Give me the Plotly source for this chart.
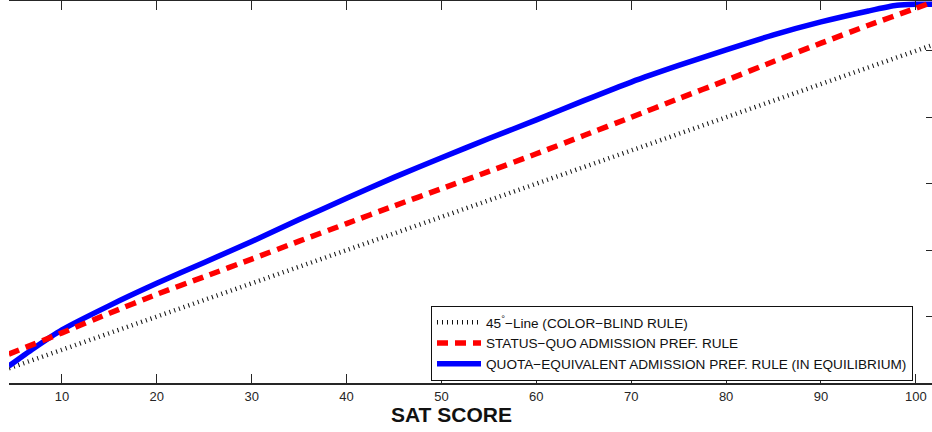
import plotly.graph_objects as go

# 45-degree line (colour-blind rule)
x_45 = [4.42, 101.7]
y_45 = [4.42, 101.7]

# status-quo admission preference rule
x_sq = [4.4, 10, 15, 20, 25, 30, 35, 40, 45, 50, 55, 60, 65, 70, 75, 80, 85, 90, 95, 100, 101.7]
y_sq = [8.7, 15.1, 21.0, 26.7, 32.0, 37.3, 42.7, 48.0, 53.3, 58.5, 63.7, 69.0, 74.5, 80.0, 85.6,
        91.1, 96.8, 102.3, 107.7, 112.8, 114.6]

# quota-equivalent admission preference rule
x_qe = [4.4, 7, 10, 15, 20, 25, 30, 35, 40, 45, 50, 55, 60, 65, 70, 75, 80, 85, 90, 95, 98, 100, 101.7]
y_qe = [5.1, 10.4, 16.0, 23.3, 30.0, 36.3, 42.6, 49.2, 55.6, 61.9, 67.8, 73.6, 79.2, 85.0, 90.6,
        95.6, 100.3, 104.8, 108.7, 112.0, 113.7, 114.0, 114.0]

x_ticks = [10, 20, 30, 40, 50, 60, 70, 80, 90, 100]
y_ticks = [0, 20, 40, 60, 80, 100]

names = ["45<sup>°</sup>−Line (COLOR−BLIND RULE)",
         "STATUS−QUO ADMISSION PREF. RULE",
         "QUOTA−EQUIVALENT ADMISSION PREF. RULE (IN EQUILIBRIUM)"]

FONT = "Liberation Sans, Arial, sans-serif"
INK = "#262626"

fig = go.Figure()
fig.add_trace(go.Scatter(x=x_45, y=y_45, mode="lines", name=names[0], legendrank=1,
                         line=dict(color="#111111", width=4.5, dash="1px,4px")))
fig.add_trace(go.Scatter(x=x_qe, y=y_qe, mode="lines", name=names[2], legendrank=3,
                         line=dict(color="#0000ff", width=5.5, shape="spline", smoothing=0.6)))
fig.add_trace(go.Scatter(x=x_sq, y=y_sq, mode="lines", name=names[1], legendrank=2,
                         line=dict(color="#ff0000", width=5.5, dash="11px,7px",
                                   shape="spline", smoothing=0.6)))

fig.update_layout(
    width=932, height=432,
    margin=dict(l=9, r=0, t=1, b=49),
    paper_bgcolor="white", plot_bgcolor="white",
    font=dict(family=FONT, size=13, color=INK),
    showlegend=True,
    legend=dict(x=(431 - 9) / 923, y=(383 - 306) / 382, xanchor="left", yanchor="top",
                bgcolor="white", bordercolor="#111111", borderwidth=1,
                font=dict(family=FONT, size=13.6, color="#111111"),
                itemwidth=44, traceorder="normal"),
    xaxis=dict(range=[4.42, 101.7], tickvals=x_ticks, ticks="inside", ticklen=9,
               tickcolor=INK, tickwidth=1, showline=True, linecolor=INK, linewidth=2,
               mirror="ticks", showgrid=False, zeroline=False,
               tickfont=dict(family=FONT, size=13, color=INK)),
    yaxis=dict(range=[0, 115], tickvals=y_ticks, side="right", ticks="inside", ticklen=6,
               tickcolor=INK, showticklabels=False, showline=False, showgrid=False,
               zeroline=False),
    annotations=[dict(text="<b>SAT SCORE</b>", xref="paper", yref="paper",
                      x=(451 - 9) / 923, y=(383 - 414) / 382, xanchor="center",
                      yanchor="middle", showarrow=False,
                      font=dict(family=FONT, size=21, color="#111111"))],
)

fig.write_html("out.html")
